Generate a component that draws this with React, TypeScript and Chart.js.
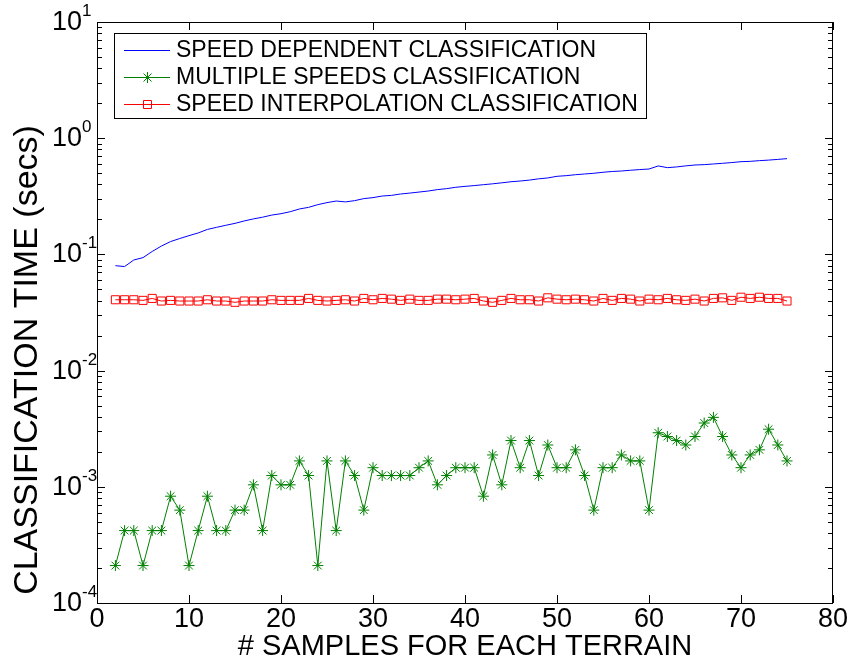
import React, { useEffect, useRef } from 'react';
import { Chart, registerables } from 'chart.js';

Chart.register(...registerables);

const FONT = "'Liberation Sans', Arial, Helvetica, sans-serif";

const samples = [
  2, 3, 4, 5, 6, 7, 8, 9, 10, 11, 12, 13, 14, 15, 16, 17, 18, 19, 20, 21,
  22, 23, 24, 25, 26, 27, 28, 29, 30, 31, 32, 33, 34, 35, 36, 37, 38, 39, 40, 41,
  42, 43, 44, 45, 46, 47, 48, 49, 50, 51, 52, 53, 54, 55, 56, 57, 58, 59, 60, 61,
  62, 63, 64, 65, 66, 67, 68, 69, 70, 71, 72, 73, 74, 75,
];

const speedDependent = [
  0.080, 0.0786, 0.0895, 0.0938, 0.106, 0.118, 0.129, 0.137, 0.145, 0.153,
  0.164, 0.171, 0.178, 0.185, 0.194, 0.202, 0.209, 0.218, 0.224, 0.233,
  0.246, 0.254, 0.268, 0.279, 0.288, 0.283, 0.290, 0.302, 0.308, 0.318,
  0.322, 0.331, 0.337, 0.344, 0.351, 0.361, 0.368, 0.378, 0.385, 0.391,
  0.398, 0.405, 0.413, 0.422, 0.428, 0.436, 0.447, 0.455, 0.470, 0.476,
  0.485, 0.492, 0.499, 0.509, 0.517, 0.522, 0.530, 0.537, 0.543, 0.577,
  0.558, 0.566, 0.578, 0.588, 0.592, 0.600, 0.608, 0.617, 0.628, 0.632,
  0.641, 0.648, 0.657, 0.667,
];

const multipleSpeeds = [
  0.00021, 0.00042, 0.00042, 0.00021, 0.00042, 0.00042, 0.00083, 0.00063, 0.00021, 0.00042,
  0.00083, 0.00042, 0.00042, 0.00063, 0.00063, 0.00104, 0.00042, 0.00125, 0.00104, 0.00104,
  0.00167, 0.00125, 0.00021, 0.00167, 0.00042, 0.00167, 0.00125, 0.00063, 0.00146, 0.00125,
  0.00125, 0.00125, 0.00125, 0.00146, 0.00167, 0.00104, 0.00125, 0.00146, 0.00146, 0.00146,
  0.00083, 0.00188, 0.00104, 0.0025, 0.00146, 0.0025, 0.00125, 0.00229, 0.00146, 0.00146,
  0.00208, 0.00125, 0.00063, 0.00146, 0.00146, 0.00188, 0.00167, 0.00167, 0.00063, 0.00292,
  0.00271, 0.0025, 0.00229, 0.00271, 0.00354, 0.00396, 0.00271, 0.00188, 0.00146, 0.00188,
  0.00208, 0.00313, 0.00229, 0.00167,
];

const speedInterpolation = [
  0.0407, 0.0407, 0.0407, 0.0402, 0.0418, 0.0397, 0.0402, 0.0397, 0.0397, 0.0397,
  0.0407, 0.0397, 0.0397, 0.0387, 0.0397, 0.0397, 0.0397, 0.0407, 0.0402, 0.0402,
  0.0402, 0.0418, 0.0402, 0.0397, 0.0402, 0.0407,
  0.0397, 0.0418, 0.0407, 0.0418, 0.0412, 0.0402, 0.0412, 0.0402, 0.0402, 0.0412,
  0.0412, 0.0407, 0.0412, 0.0418, 0.0397, 0.0387, 0.0402, 0.0418, 0.0407, 0.0407,
  0.0397, 0.0423, 0.0412, 0.0407, 0.0412, 0.0407,
  0.0397, 0.0418, 0.0402, 0.0418, 0.0412, 0.0397, 0.0412, 0.0407, 0.0418, 0.0407,
  0.0402, 0.0412, 0.0397, 0.0418, 0.0423, 0.0402, 0.0428, 0.0418, 0.0428, 0.0418,
  0.0418, 0.0397,
];

const seriesLabels = [
  'SPEED DEPENDENT CLASSIFICATION',
  'MULTIPLE SPEEDS CLASSIFICATION',
  'SPEED INTERPOLATION CLASSIFICATION',
];

const xTicks = [0, 10, 20, 30, 40, 50, 60, 70, 80];
const yDecades = [1e-4, 1e-3, 1e-2, 1e-1, 1e0, 1e1];
const yExponents = ['-4', '-3', '-2', '-1', '0', '1'];
const xTitle = '# SAMPLES FOR EACH TERRAIN';
const yTitle = 'CLASSIFICATION TIME (secs)';

const matlabPlugin = {
  id: 'matlabAxes',
  afterDatasetsDraw(chart: any) {
    const { ctx, chartArea } = chart;
    const { left, right, top, bottom } = chartArea;
    const xs = chart.scales.x;
    const ys = chart.scales.y;
    ctx.save();
    ctx.strokeStyle = '#000';
    ctx.lineWidth = 1;
    ctx.strokeRect(Math.round(left) + 0.5, Math.round(top) + 0.5, Math.round(right - left) - 1, Math.round(bottom - top));
    ctx.beginPath();
    for (const v of xTicks) {
      const px = Math.round(xs.getPixelForValue(v)) + 0.5;
      ctx.moveTo(px, bottom);
      ctx.lineTo(px, bottom - 8);
      ctx.moveTo(px, top);
      ctx.lineTo(px, top + 8);
    }
    for (let i = 0; i < yDecades.length; i++) {
      const d = yDecades[i];
      const py = Math.round(ys.getPixelForValue(d)) + 0.5;
      ctx.moveTo(left, py);
      ctx.lineTo(left + 8, py);
      ctx.moveTo(right, py);
      ctx.lineTo(right - 8, py);
      if (i < yDecades.length - 1) {
        for (let k = 2; k <= 9; k++) {
          const pm = Math.round(ys.getPixelForValue(k * d)) + 0.5;
          ctx.moveTo(left, pm);
          ctx.lineTo(left + 5, pm);
          ctx.moveTo(right, pm);
          ctx.lineTo(right - 5, pm);
        }
      }
    }
    ctx.stroke();

    ctx.fillStyle = '#000';
    for (let i = 0; i < yDecades.length; i++) {
      const py = ys.getPixelForValue(yDecades[i]);
      ctx.font = `27px ${FONT}`;
      ctx.textAlign = 'right';
      ctx.textBaseline = 'alphabetic';
      ctx.fillText('10', 82, py + 8);
      ctx.font = `17px ${FONT}`;
      ctx.textAlign = 'left';
      ctx.fillText(yExponents[i], 82, py - 6);
    }

    ctx.save();
    ctx.translate(28, 360);
    ctx.rotate(-Math.PI / 2);
    ctx.font = `34px ${FONT}`;
    ctx.textAlign = 'center';
    ctx.textBaseline = 'middle';
    ctx.fillText(yTitle, 0, 0);
    ctx.restore();
    ctx.restore();
  },
  afterDraw(chart: any) {
    const { ctx } = chart;
    ctx.save();
    const bx = 114, by = 33, bw = 532, bh = 85;
    ctx.fillStyle = '#fff';
    ctx.fillRect(bx, by, bw, bh);
    ctx.strokeStyle = '#000';
    ctx.lineWidth = 1;
    ctx.strokeRect(bx + 0.5, by + 0.5, bw, bh);
    const rows = [50, 77, 104];
    chart.data.datasets.forEach((ds: any, i: number) => {
      const y = rows[i];
      ctx.strokeStyle = ds.borderColor;
      ctx.lineWidth = 1;
      ctx.beginPath();
      ctx.moveTo(124, y + 0.5);
      ctx.lineTo(170, y + 0.5);
      ctx.stroke();
      if (ds.pointRadius > 0) {
        ctx.strokeStyle = ds.pointBorderColor;
        ctx.beginPath();
        if (ds.pointStyle === 'rect') {
          ctx.rect(143.5, y - 3.5, 8, 8);
        } else {
          ctx.moveTo(147.5, y - 5); ctx.lineTo(147.5, y + 6);
          ctx.moveTo(142, y + 0.5); ctx.lineTo(153, y + 0.5);
          ctx.moveTo(143.5, y - 3.5); ctx.lineTo(151.5, y + 4.5);
          ctx.moveTo(151.5, y - 3.5); ctx.lineTo(143.5, y + 4.5);
        }
        ctx.stroke();
      }
      ctx.fillStyle = '#000';
      ctx.font = `23px ${FONT}`;
      ctx.textAlign = 'left';
      ctx.textBaseline = 'middle';
      ctx.fillText(ds.label, 176, y + 1);
    });
    ctx.restore();
  },
};

export default function App() {
  const ref = useRef<HTMLCanvasElement | null>(null);
  useEffect(() => {
    if (!ref.current) return;
    const mk = (vals: number[]) => samples.map((x, i) => ({ x, y: vals[i] }));
    const chart = new Chart(ref.current, {
      type: 'line',
      data: {
        datasets: [
          {
            label: seriesLabels[0],
            data: mk(speedDependent),
            borderColor: 'rgb(0,0,255)',
            borderWidth: 1,
            pointRadius: 0,
            tension: 0,
          },
          {
            label: seriesLabels[1],
            data: mk(multipleSpeeds),
            borderColor: 'rgb(0,128,0)',
            borderWidth: 1,
            pointStyle: 'star',
            pointRadius: 5.5,
            pointBorderColor: 'rgb(0,128,0)',
            pointBackgroundColor: 'rgb(0,128,0)',
            pointBorderWidth: 1,
            tension: 0,
          },
          {
            label: seriesLabels[2],
            data: mk(speedInterpolation),
            borderColor: 'rgb(255,0,0)',
            borderWidth: 1,
            pointStyle: 'rect',
            pointRadius: 5.7,
            pointBorderColor: 'rgb(255,0,0)',
            pointBackgroundColor: 'rgba(0,0,0,0)',
            pointBorderWidth: 1,
            tension: 0,
          },
        ],
      },
      options: {
        responsive: false,
        animation: false,
        events: [],
        layout: { padding: { top: 22, right: 17, left: 0, bottom: 0 } },
        plugins: { legend: { display: false }, tooltip: { enabled: false } },
        scales: {
          x: {
            type: 'linear',
            min: 0,
            max: 80,
            grid: { display: false, drawTicks: false },
            border: { display: false },
            ticks: {
              stepSize: 10,
              color: '#000',
              font: { family: FONT, size: 27 },
              padding: 0,
              maxRotation: 0,
            },
            title: {
              display: true,
              text: xTitle,
              color: '#000',
              font: { family: FONT, size: 29 },
              padding: { top: 0, bottom: 0 },
            },
            afterFit: (s: any) => { s.height = 61; },
          },
          y: {
            type: 'logarithmic',
            min: 1e-4,
            max: 10,
            grid: { display: false, drawTicks: false },
            border: { display: false },
            ticks: { display: false },
            afterBuildTicks: (s: any) => { s.ticks = yDecades.map((v) => ({ value: v })); },
            afterFit: (s: any) => { s.width = 97; },
          },
        },
      },
      plugins: [matlabPlugin],
    });
    return () => chart.destroy();
  }, []);
  return (
    <div style={{ position: 'absolute', left: 0, top: 0, width: 850, height: 664, background: '#fff' }}>
      <canvas ref={ref} width={850} height={664} style={{ width: 850, height: 664, display: 'block' }} />
    </div>
  );
}
